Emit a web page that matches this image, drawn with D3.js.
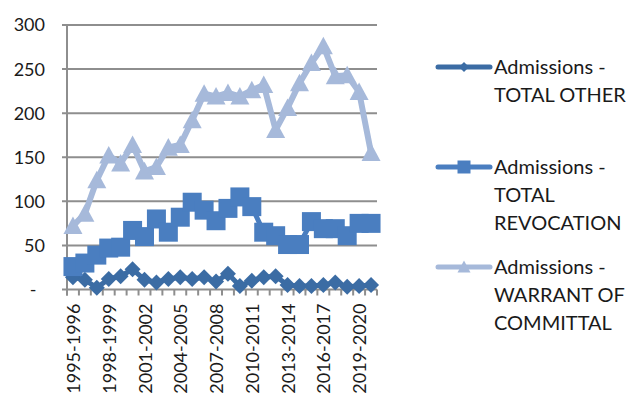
<!DOCTYPE html>
<html>
<head>
<meta charset="utf-8">
<script src="https://cdn.jsdelivr.net/npm/d3@7"></script>
<style>
  html, body { margin: 0; padding: 0; background: #fff; }
  svg { display: block; font-family: Lato, "Open Sans", sans-serif; }
</style>
</head>
<body>
<svg id="chart" width="626" height="393"></svg>
<script>
// Financial years shown on the category axis
const years = [
  "1995-1996","1996-1997","1997-1998","1998-1999","1999-2000","2000-2001",
  "2001-2002","2002-2003","2003-2004","2004-2005","2005-2006","2006-2007",
  "2007-2008","2008-2009","2009-2010","2010-2011","2011-2012","2012-2013",
  "2013-2014","2014-2015","2015-2016","2016-2017","2017-2018","2018-2019",
  "2019-2020","2020-2021"
];

// Admissions by type
const totalOther = [14, 11, 2, 12, 15, 23, 11, 8, 12, 14, 12, 14, 9, 18, 4, 10, 14, 15, 5, 4, 4, 5, 8, 3, 4, 5];
const totalRevocation = [26, 30, 39, 47, 48, 67, 60, 80, 65, 82, 99, 90, 78, 92, 105, 94, 65, 61, 51, 51, 77, 69, 69, 61, 75, 75];
const warrantOfCommittal = [72, 86, 124, 152, 143, 164, 134, 139, 161, 164, 192, 222, 219, 223, 219, 226, 232, 181, 206, 234, 257, 276, 242, 243, 224, 155];

const yTicks = [0, 50, 100, 150, 200, 250, 300];
const seriesNames = [
  ["Admissions -", "TOTAL OTHER"],
  ["Admissions -", "TOTAL", "REVOCATION"],
  ["Admissions -", "WARRANT OF", "COMMITTAL"]
];

const series = [
  { values: totalOther, color: "#3b6ca4", marker: "diamond", size: 16, width: 5 },
  { values: totalRevocation, color: "#4a7ec0", marker: "square", size: 19, width: 5 },
  { values: warrantOfCommittal, color: "#a6b9da", marker: "triangle", size: 19, width: 6 }
];

const svg = d3.select("#chart");
const plotLeft = 67, plotRight = 377, plotTop = 25, plotBottom = 289.5;

const x = d3.scaleBand().domain(years).range([plotLeft, plotRight]).padding(0);
const y = d3.scaleLinear().domain([0, 300]).range([plotBottom, plotTop]);
const cx = d => x(d) + x.bandwidth() / 2;

const gridColor = "#8e8e8e";

// Horizontal gridlines with short ticks left of the value axis
svg.append("g").selectAll("line").data(yTicks).join("line")
  .attr("x1", plotLeft - 5).attr("x2", plotRight)
  .attr("y1", d => y(d)).attr("y2", d => y(d))
  .attr("stroke", gridColor).attr("stroke-width", 2);

// Value axis line
svg.append("line")
  .attr("x1", plotLeft).attr("x2", plotLeft)
  .attr("y1", plotTop).attr("y2", plotBottom + 6)
  .attr("stroke", gridColor).attr("stroke-width", 2);

// Category tick marks between years
svg.append("g").selectAll("line").data(d3.range(years.length + 1)).join("line")
  .attr("x1", i => plotLeft + i * x.step()).attr("x2", i => plotLeft + i * x.step())
  .attr("y1", plotBottom).attr("y2", plotBottom + 6)
  .attr("stroke", gridColor).attr("stroke-width", 2);

// Value labels
svg.append("g").selectAll("text").data(yTicks).join("text")
  .attr("x", d => d === 0 ? 33 : 45)
  .attr("y", d => y(d))
  .attr("dy", "0.36em")
  .attr("text-anchor", d => d === 0 ? "middle" : "end")
  .attr("font-size", 18)
  .attr("fill", "#1a1a1a")
  .text(d => d === 0 ? "-" : d3.format("d")(d));

// Year labels, every third category, rotated
svg.append("g").selectAll("text").data(years.filter((d, i) => i % 3 === 0)).join("text")
  .attr("transform", d => `translate(${cx(d) + 7},${plotBottom + 14}) rotate(-90)`)
  .attr("text-anchor", "end")
  .attr("font-size", 18)
  .attr("fill", "#1a1a1a")
  .text(d => d);

const symbolFor = (kind, size) => {
  const h = size / 2;
  if (kind === "diamond") return `M0,${-h}L${h},0L0,${h}L${-h},0Z`;
  if (kind === "square") return `M${-h},${-h}H${h}V${h}H${-h}Z`;
  return `M0,${-h}L${h},${h * 0.85}L${-h},${h * 0.85}Z`;
};

const line = d3.line().x((d, i) => cx(years[i])).y(d => y(d));

series.forEach(s => {
  const g = svg.append("g");
  g.append("path")
    .attr("d", line(s.values))
    .attr("fill", "none")
    .attr("stroke", s.color)
    .attr("stroke-width", s.width)
    .attr("stroke-linejoin", "round");
  g.selectAll("path.m").data(s.values).join("path")
    .attr("class", "m")
    .attr("transform", (d, i) => `translate(${cx(years[i])},${y(d)})`)
    .attr("d", symbolFor(s.marker, s.size))
    .attr("fill", s.color);
});

// Legend
const legendY = [67, 167, 267];
series.forEach((s, k) => {
  const g = svg.append("g").attr("transform", `translate(0,${legendY[k]})`);
  g.append("line")
    .attr("x1", 438).attr("x2", 490).attr("y1", 0).attr("y2", 0)
    .attr("stroke", s.color).attr("stroke-width", 5).attr("stroke-linecap", "round");
  g.append("path")
    .attr("transform", "translate(464,0)")
    .attr("d", symbolFor(s.marker, s.marker === "diamond" ? 10 : 13))
    .attr("fill", s.color);
  g.append("g").selectAll("text").data(seriesNames[k]).join("text")
    .attr("x", 494)
    .attr("y", (d, i) => 7 + i * 28)
    .attr("font-size", 20)
    .attr("fill", "#1a1a1a")
    .text(d => d);
});
</script>
</body>
</html>
